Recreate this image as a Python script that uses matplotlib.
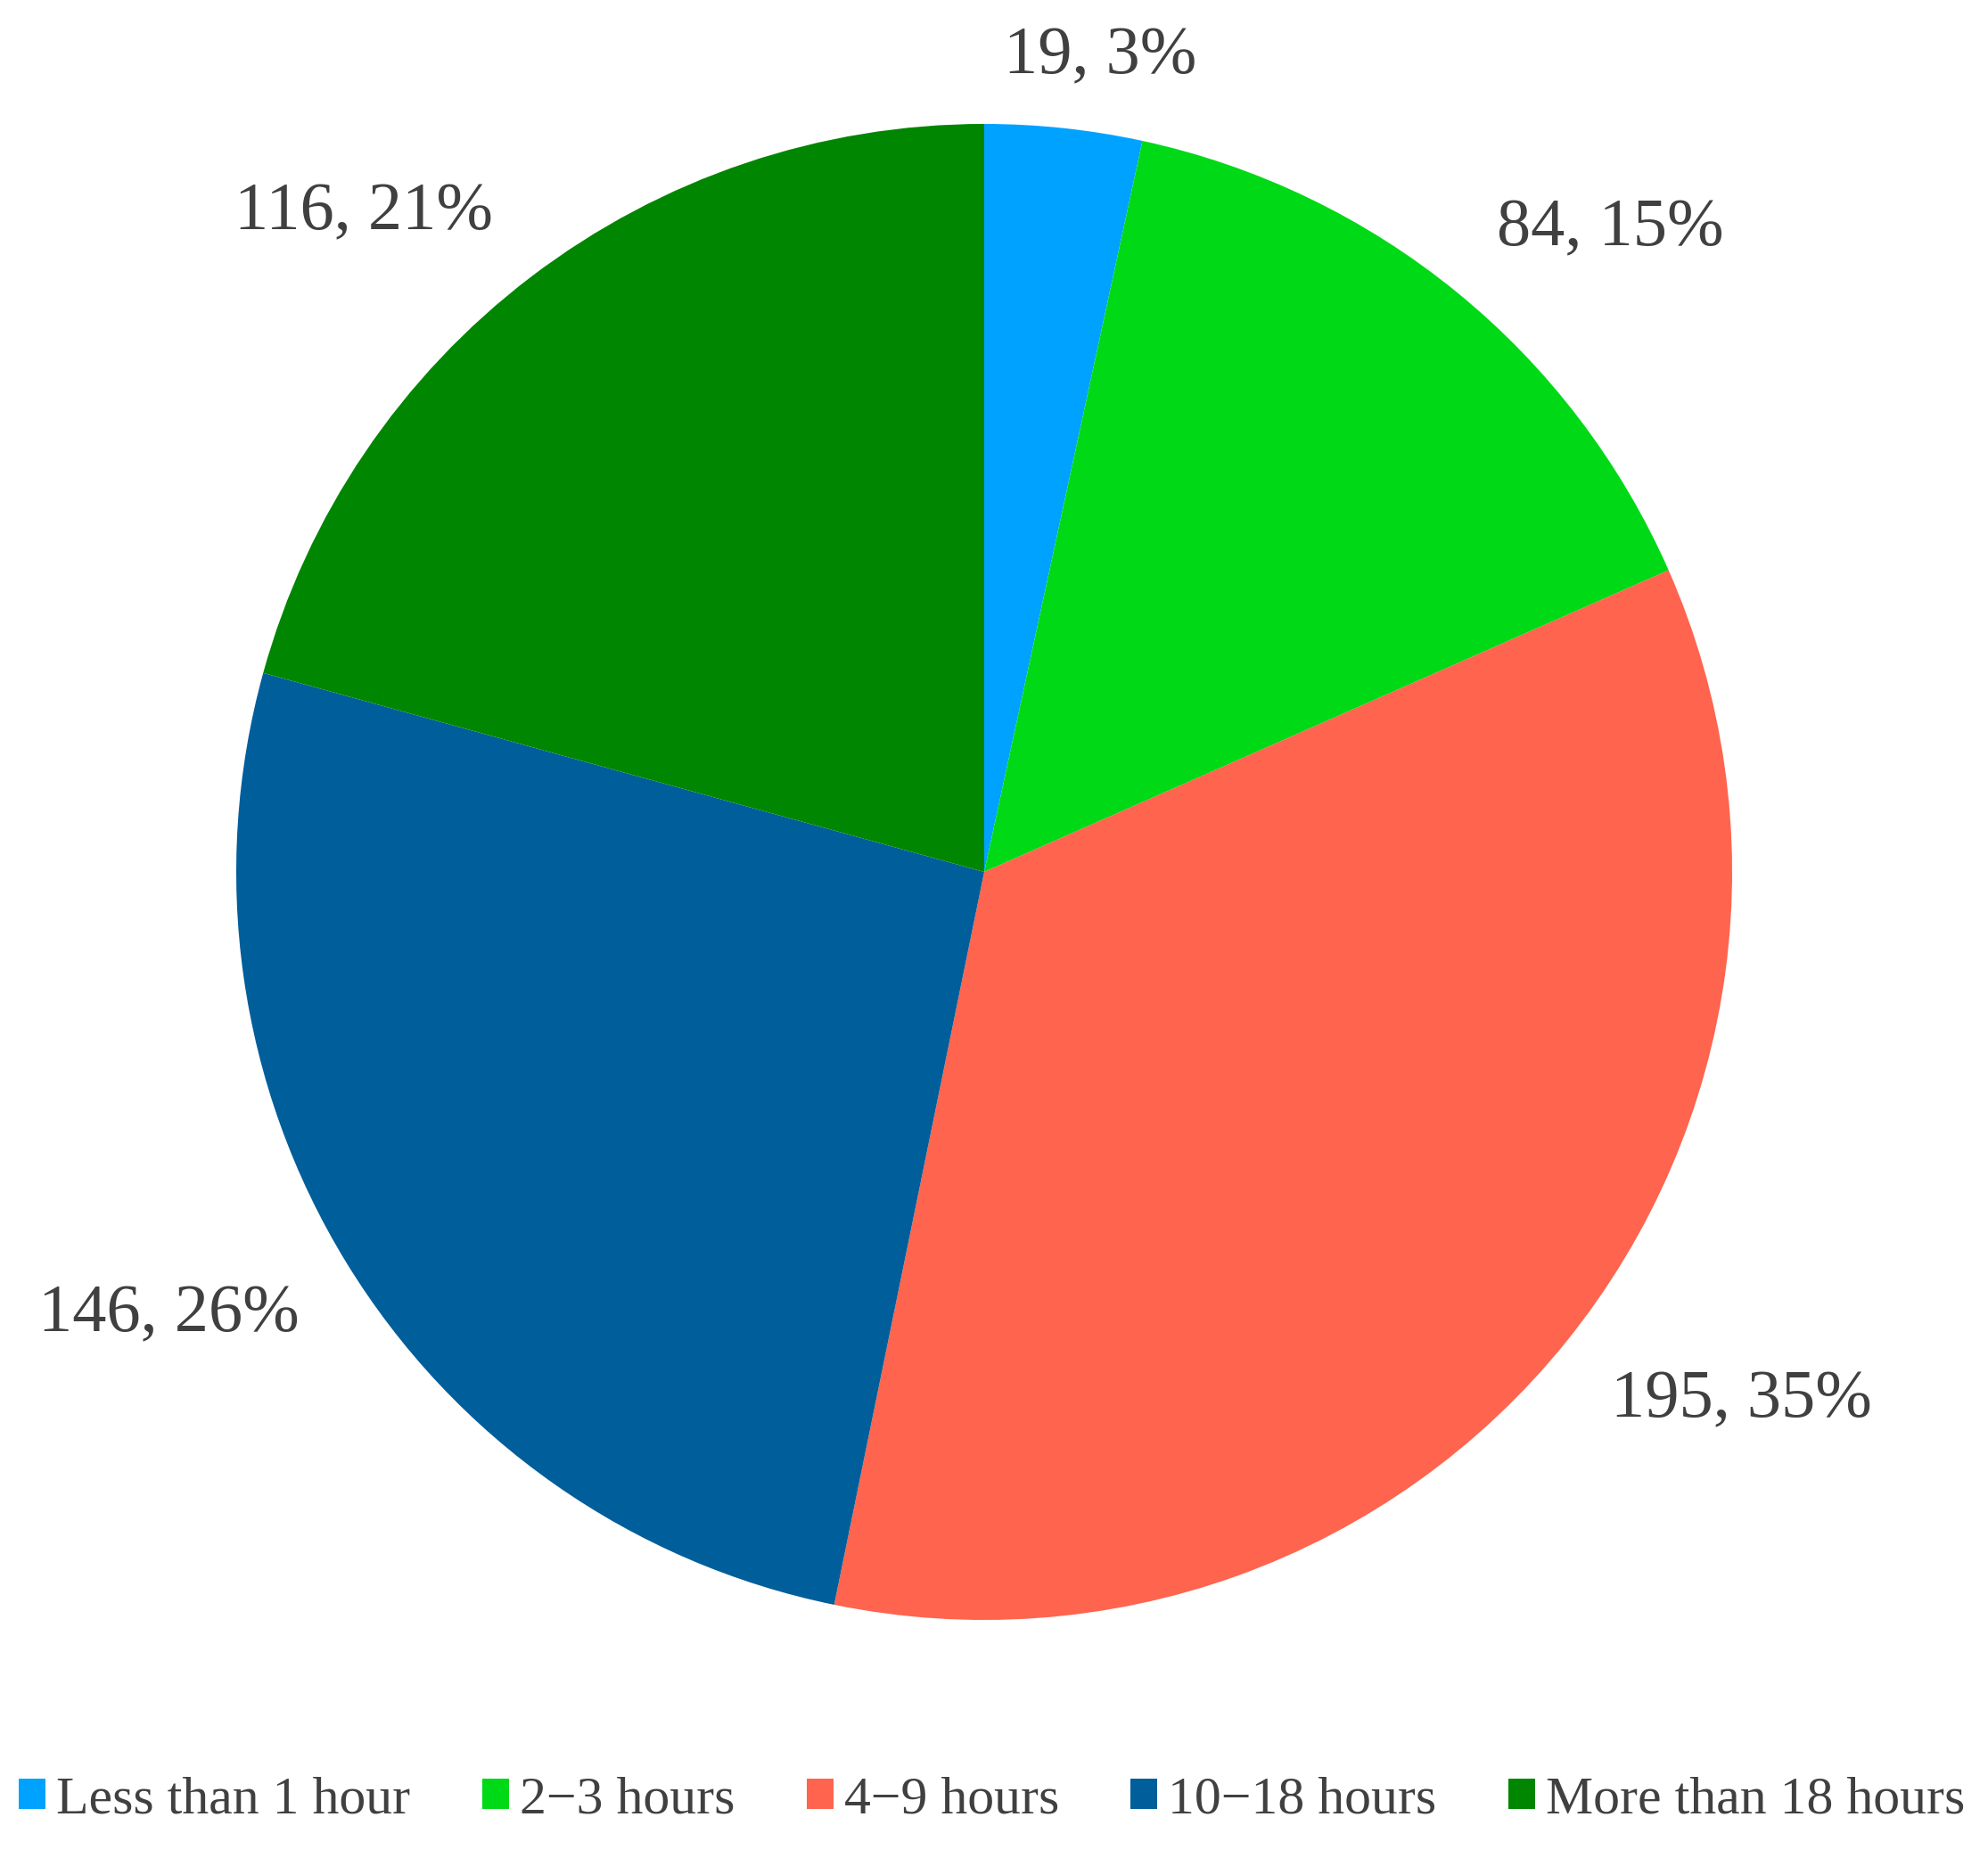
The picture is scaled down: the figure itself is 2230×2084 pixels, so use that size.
import numpy as np
import matplotlib
matplotlib.use("Agg")
import matplotlib.pyplot as plt

# survey answers: time spent
categories = ["Less than 1 hour", "2\u22123 hours", "4\u22129 hours", "10\u221218 hours", "More than 18 hours"]
counts = [19, 84, 195, 146, 116]
colors = ["#00A2FF", "#00D916", "#FF644E", "#005E9A", "#008600"]
# label distance from centre (in radii) for each slice, Excel "best fit" style
label_dist = [1.10, 1.20, 1.235, 1.24, 1.21]
label_shift = [2, 5, -4, 3, -6]  # degrees, clockwise

plt.rcParams['font.family'] = ['Liberation Serif', 'DejaVu Serif']
text_color = "#404040"

fig = plt.figure(figsize=(22.3, 20.84), dpi=100)
W, H = 2230, 2084
cx, cy, r = 1104, 978, 839
ax = fig.add_axes([(cx - r) / W, 1 - (cy + r) / H, 2 * r / W, 2 * r / H])

wedges, _ = ax.pie(counts, colors=colors, startangle=90, counterclock=False,
                   radius=1.0, wedgeprops=dict(linewidth=0))
ax.set_xlim(-1, 1)
ax.set_ylim(-1, 1)
ax.set_aspect("equal")
ax.axis("off")

total = sum(counts)
for w, n, d, s in zip(wedges, counts, label_dist, label_shift):
    mid = np.deg2rad((w.theta1 + w.theta2) / 2 - s)
    pct = round(100 * n / total)
    ax.text(d * np.cos(mid), d * np.sin(mid), f"{n}, {pct}%", ha="center", va="center",
            fontsize=55, color=text_color, clip_on=False)

fig.legend(wedges, categories, loc="center", bbox_to_anchor=(0.499, 0.031), ncol=5,
           frameon=False, fontsize=43, handlelength=0.5, handleheight=0.5,
           handletextpad=0.2, columnspacing=1.35, labelcolor=text_color)

fig.savefig("out.png", dpi=100)
